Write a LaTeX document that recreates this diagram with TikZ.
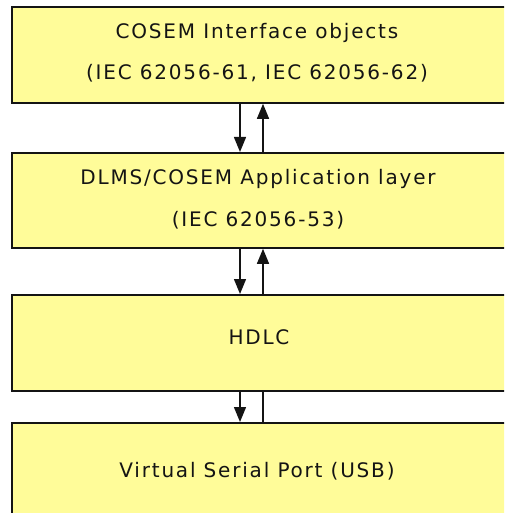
\documentclass[tikz,border=0pt]{standalone}
\usepackage{fontspec}
\setmainfont{DejaVu Sans}[LetterSpace=9]
\usetikzlibrary{arrows.meta}
\definecolor{boxfill}{RGB}{255,252,153}
\definecolor{edge}{RGB}{20,20,20}
\begin{document}
\begin{tikzpicture}[x=1pt,y=-1pt,
  layer/.style={draw=edge, line width=1.8pt, fill=boxfill, anchor=north west, inner sep=0pt, minimum width=510pt},
  lbl/.style={anchor=base, inner sep=0pt, text=black!92, font=\fontsize{20}{20}\selectfont},
  flow/.style={draw=edge, line width=1.4pt, -{Triangle[length=15pt,width=12pt]}},
  plain/.style={draw=edge, line width=1.4pt}]
\useasboundingbox (0,0) rectangle (504,513);
\clip (0,0) rectangle (504,513);
\node[layer, minimum height=96pt] (cosem) at (11,6) {};
\node[layer, minimum height=95pt] (app) at (11,152) {};
\node[layer, minimum height=96pt] (hdlc) at (11,294) {};
\node[layer, minimum height=120pt] (vsp) at (11,422) {};
\node[lbl] (t1a) at (257,39) {COSEM Interface objects};
\node[lbl] (t1b) at (257,80) {(IEC 62056-61, IEC 62056-62)};
\node[lbl] (t2a) at (258,184) {DLMS/COSEM Application layer};
\node[lbl] (t2b) at (258,226) {(IEC 62056-53)};
\node[lbl] (t3) at (259,344) {HDLC};
\node[lbl] (t4) at (257,477) {Virtual Serial Port (USB)};
\draw[flow] ([xshift=229pt]cosem.south west) -- ([xshift=229pt]app.north west);
\draw[flow] ([xshift=252pt]app.north west) -- ([xshift=252pt]cosem.south west);
\draw[flow] ([xshift=229pt]app.south west) -- ([xshift=229pt]hdlc.north west);
\draw[flow] ([xshift=252pt]hdlc.north west) -- ([xshift=252pt]app.south west);
\draw[flow] ([xshift=229pt]hdlc.south west) -- ([xshift=229pt]vsp.north west);
\draw[plain] ([xshift=252pt]hdlc.south west) -- ([xshift=252pt]vsp.north west);
\end{tikzpicture}
\end{document}
